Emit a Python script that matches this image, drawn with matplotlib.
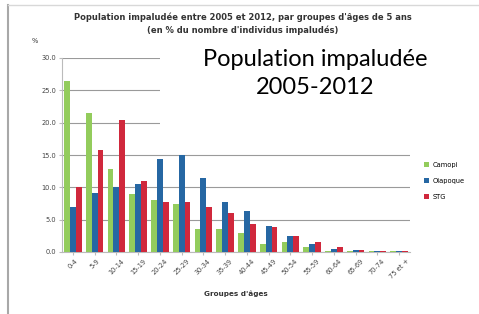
import matplotlib.pyplot as plt
import numpy as np
from matplotlib.patches import Rectangle

groupes = ['0-4', '5-9', '10-14', '15-19', '20-24', '25-29', '30-34', '35-39',
           '40-44', '45-49', '50-54', '55-59', '60-64', '65-69', '70-74', '75 et +']
camopi = [26.5, 21.5, 12.8, 9.0, 8.0, 7.5, 3.5, 3.5, 3.0, 1.2, 1.5, 0.8, 0.2, 0.1, 0.1, 0.1]
oiapoque = [7.0, 9.2, 10.0, 10.5, 14.4, 15.0, 11.5, 7.8, 6.3, 4.0, 2.5, 1.3, 0.5, 0.3, 0.2, 0.1]
stg = [10.0, 15.7, 20.4, 11.0, 7.8, 7.8, 7.0, 6.0, 4.3, 3.8, 2.5, 1.6, 0.7, 0.3, 0.1, 0.1]
series = ['Camopi', 'Oiapoque', 'STG']
couleurs = ['#93cc5c', '#2667a3', '#d0283c']

W, H = 479, 314
fig = plt.figure(figsize=(W / 100, H / 100), dpi=100)
fig.patch.set_facecolor('white')

def px(x0, y0, x1, y1):
    return [x0 / W, 1 - y1 / H, (x1 - x0) / W, (y1 - y0) / H]

# outer frame of the pasted excel chart
frame = fig.add_axes([0, 0, 1, 1])
frame.set_xlim(0, W)
frame.set_ylim(H, 0)
frame.axis('off')
frame.plot([8, 8], [5, 314], color='#a8a8a8', lw=1.5)
frame.plot([8, 479], [5, 5], color='#d8d8d8', lw=1)

ax = fig.add_axes(px(62, 58, 410, 252))
x = np.arange(len(groupes))
w = 0.27
for i, (vals, nom) in enumerate(zip([camopi, oiapoque, stg], series)):
    ax.bar(x + (i - 1) * w, vals, w, color=couleurs[i], label=nom, zorder=3)

ax.set_xlim(-0.5, len(groupes) - 0.5)
ax.set_ylim(0, 30)
ax.set_yticks(np.arange(0, 31, 5))
ax.set_yticklabels(['%.1f' % v for v in np.arange(0, 31, 5)], fontsize=4.8, color='#444444')
ax.set_xticks(x)
ax.set_xticklabels(groupes, rotation=45, fontsize=4.8, color='#444444')
ax.yaxis.grid(True, color='#9a9a9a', lw=0.8, zorder=0)
for s in ['top', 'right']:
    ax.spines[s].set_visible(False)
ax.spines['left'].set_color('#bbbbbb')
ax.spines['bottom'].set_color('#bbbbbb')
ax.tick_params(length=2, color='#bbbbbb', pad=2)
ax.set_xlabel("Groupes d'âges", fontsize=5.2, fontweight='bold', color='#333333', labelpad=8)

fig.text(35 / W, 1 - 41 / H, '%', fontsize=4.8, color='#333333', ha='center', va='center')
fig.text(243 / W, 1 - 17 / H,
         "Population impaludée entre 2005 et 2012, par groupes d'âges de 5 ans",
         fontsize=6, fontweight='bold', ha='center', va='center', color='#333333')
fig.text(243 / W, 1 - 30 / H, "(en % du nombre d'individus impaludés)",
         fontsize=6, fontweight='bold', ha='center', va='center', color='#333333')

fig.legend(loc='center left', bbox_to_anchor=(418 / W, 1 - 181 / H), frameon=False,
           fontsize=4.8, handlelength=0.8, handleheight=0.8, labelspacing=1.5,
           handletextpad=0.5)

# white text box pasted on top of the chart
frame2 = fig.add_axes([0, 0, 1, 1], zorder=10)
frame2.set_xlim(0, W)
frame2.set_ylim(H, 0)
frame2.axis('off')
frame2.add_patch(Rectangle((160, 55), 285, 85, facecolor='white', edgecolor='none'))
frame2.text(315, 60, 'Population impaludée', fontsize=17, family='Lato',
            ha='center', va='center', color='black')
frame2.text(315, 88, '2005-2012', fontsize=17, family='Lato',
            ha='center', va='center', color='black')

fig.savefig('out.png', dpi=100)
